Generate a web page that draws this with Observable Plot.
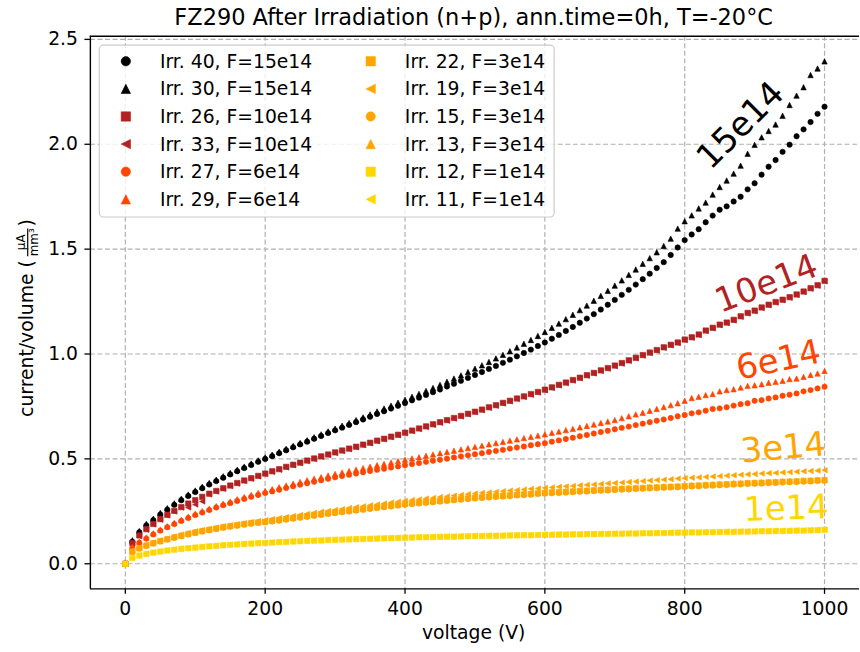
<!DOCTYPE html>
<html><head><meta charset="utf-8">
<script src="https://cdn.jsdelivr.net/npm/d3@7"></script>
<script src="https://cdn.jsdelivr.net/npm/@observablehq/plot@0.6"></script>
<style>
html,body{margin:0;padding:0;overflow:hidden;background:#fff;width:860px;height:652px}
#chart{position:absolute;left:0;top:0}
</style></head><body><div id="chart"></div>
<script>
const voltage = [0,10,20,30,40,50,60,70,80,90,100,110,120,130,140,150,160,170,180,190,200,210,220,230,240,250,260,270,280,290,300,310,320,330,340,350,360,370,380,390,400,410,420,430,440,450,460,470,480,490,500,510,520,530,540,550,560,570,580,590,600,610,620,630,640,650,660,670,680,690,700,710,720,730,740,750,760,770,780,790,800,810,820,830,840,850,860,870,880,890,900,910,920,930,940,950,960,970,980,990,1000];

const irr40 = [0,0.105,0.150,0.183,0.208,0.235,0.258,0.281,0.303,0.323,0.342,0.360,0.378,0.394,0.410,0.426,0.441,0.456,0.471,0.486,0.500,0.513,0.527,0.541,0.555,0.569,0.582,0.596,0.609,0.623,0.636,0.649,0.662,0.675,0.688,0.701,0.714,0.727,0.740,0.753,0.766,0.779,0.792,0.805,0.818,0.831,0.845,0.858,0.872,0.886,0.900,0.914,0.929,0.943,0.958,0.973,0.989,1.005,1.021,1.038,1.055,1.073,1.091,1.110,1.129,1.149,1.169,1.190,1.212,1.235,1.258,1.282,1.306,1.331,1.357,1.383,1.410,1.438,1.472,1.508,1.543,1.570,1.595,1.628,1.660,1.688,1.704,1.727,1.750,1.785,1.814,1.855,1.893,1.925,1.964,1.998,2.038,2.071,2.106,2.145,2.179];
const irr30 = [0,0.112,0.156,0.190,0.215,0.242,0.265,0.288,0.310,0.330,0.349,0.367,0.385,0.401,0.417,0.433,0.448,0.463,0.478,0.493,0.507,0.520,0.534,0.548,0.562,0.576,0.589,0.603,0.617,0.631,0.644,0.658,0.671,0.685,0.698,0.712,0.726,0.740,0.754,0.768,0.782,0.796,0.810,0.824,0.838,0.853,0.868,0.883,0.898,0.914,0.930,0.946,0.962,0.979,0.996,1.013,1.031,1.049,1.067,1.086,1.105,1.125,1.145,1.166,1.187,1.209,1.231,1.254,1.277,1.301,1.326,1.351,1.377,1.403,1.430,1.457,1.485,1.515,1.550,1.598,1.633,1.661,1.694,1.722,1.760,1.796,1.827,1.860,1.898,1.955,1.997,2.033,2.063,2.094,2.136,2.187,2.232,2.272,2.330,2.361,2.395];
const irr26 = [0,0.099,0.135,0.165,0.190,0.213,0.233,0.252,0.270,0.287,0.303,0.319,0.334,0.347,0.360,0.373,0.385,0.397,0.408,0.419,0.430,0.441,0.451,0.462,0.472,0.482,0.492,0.502,0.512,0.521,0.531,0.540,0.549,0.558,0.568,0.577,0.587,0.596,0.606,0.615,0.625,0.635,0.645,0.655,0.665,0.675,0.685,0.695,0.705,0.715,0.725,0.735,0.746,0.756,0.767,0.777,0.788,0.798,0.809,0.819,0.830,0.841,0.853,0.864,0.876,0.887,0.899,0.910,0.922,0.933,0.945,0.957,0.970,0.982,0.995,1.007,1.019,1.032,1.044,1.055,1.069,1.080,1.093,1.112,1.125,1.140,1.150,1.163,1.180,1.196,1.207,1.222,1.235,1.248,1.259,1.271,1.284,1.298,1.314,1.328,1.349];
const irr33 = [0,0.096,0.132,0.162,0.187,0.210,0.230,0.249,0.268,0.268,0.282,0.297,0.330,0.344,0.357,0.370,0.382,0.394,0.405,0.416,0.427,0.438,0.448,0.459,0.469,0.479,0.489,0.499,0.509,0.518,0.528,0.537,0.546,0.555,0.565,0.574,0.584,0.593,0.603,0.612,0.622,0.632,0.642,0.652,0.662,0.672,0.682,0.692,0.702,0.712,0.722,0.732,0.743,0.753,0.764,0.774,0.785,0.795,0.806,0.816,0.827,0.838,0.850,0.861,0.873,0.884,0.896,0.907,0.919,0.930,0.942,0.954,0.967,0.979,0.992,1.004,1.016,1.029,1.041,1.052,1.066,1.077,1.090,1.109,1.122,1.137,1.147,1.160,1.177,1.193,1.204,1.219,1.232,1.245,1.256,1.268,1.281,1.295,1.311,1.325,1.346];
const irr27 = [0,0.075,0.100,0.120,0.140,0.158,0.174,0.189,0.204,0.218,0.232,0.244,0.256,0.268,0.279,0.289,0.299,0.309,0.319,0.328,0.337,0.345,0.353,0.361,0.369,0.377,0.384,0.391,0.398,0.405,0.412,0.418,0.424,0.430,0.436,0.442,0.448,0.453,0.459,0.464,0.470,0.475,0.480,0.486,0.491,0.496,0.501,0.507,0.512,0.517,0.522,0.527,0.533,0.538,0.543,0.549,0.554,0.559,0.565,0.570,0.575,0.582,0.588,0.595,0.601,0.608,0.614,0.621,0.628,0.634,0.641,0.648,0.654,0.661,0.668,0.675,0.682,0.688,0.695,0.703,0.709,0.717,0.722,0.730,0.738,0.741,0.746,0.754,0.761,0.765,0.777,0.780,0.788,0.793,0.801,0.806,0.812,0.822,0.828,0.836,0.844];
const irr29 = [0,0.080,0.105,0.125,0.145,0.163,0.179,0.195,0.210,0.225,0.239,0.251,0.263,0.275,0.286,0.297,0.308,0.318,0.328,0.338,0.347,0.356,0.365,0.373,0.382,0.390,0.398,0.406,0.413,0.421,0.428,0.435,0.442,0.449,0.456,0.463,0.470,0.476,0.483,0.489,0.496,0.502,0.508,0.515,0.521,0.527,0.533,0.539,0.545,0.551,0.557,0.563,0.569,0.575,0.581,0.587,0.593,0.599,0.605,0.611,0.617,0.624,0.630,0.637,0.643,0.650,0.657,0.664,0.671,0.678,0.685,0.694,0.703,0.712,0.720,0.729,0.738,0.747,0.756,0.765,0.777,0.790,0.796,0.804,0.809,0.822,0.828,0.832,0.840,0.848,0.851,0.856,0.863,0.867,0.872,0.880,0.883,0.891,0.900,0.907,0.919];
const irr22 = [0,0.058,0.074,0.087,0.098,0.108,0.117,0.126,0.134,0.142,0.149,0.156,0.162,0.168,0.174,0.179,0.184,0.189,0.194,0.197,0.200,0.205,0.209,0.214,0.218,0.223,0.227,0.232,0.236,0.241,0.245,0.249,0.253,0.257,0.261,0.265,0.269,0.273,0.277,0.281,0.285,0.288,0.291,0.294,0.297,0.300,0.303,0.306,0.309,0.312,0.315,0.317,0.320,0.322,0.324,0.326,0.329,0.331,0.333,0.336,0.338,0.340,0.341,0.343,0.345,0.347,0.348,0.350,0.352,0.353,0.355,0.357,0.358,0.360,0.361,0.363,0.364,0.366,0.367,0.368,0.370,0.372,0.373,0.375,0.376,0.378,0.379,0.381,0.382,0.384,0.385,0.386,0.388,0.389,0.391,0.392,0.393,0.395,0.396,0.398,0.399];
const irr19 = [0,0.062,0.078,0.091,0.102,0.112,0.121,0.130,0.139,0.147,0.155,0.161,0.167,0.173,0.179,0.184,0.189,0.194,0.199,0.204,0.208,0.213,0.218,0.223,0.228,0.233,0.238,0.243,0.248,0.252,0.257,0.261,0.266,0.270,0.274,0.279,0.283,0.287,0.292,0.296,0.300,0.304,0.307,0.311,0.314,0.318,0.321,0.325,0.328,0.332,0.335,0.338,0.340,0.343,0.346,0.349,0.351,0.354,0.357,0.359,0.362,0.364,0.367,0.369,0.371,0.374,0.376,0.378,0.380,0.383,0.385,0.387,0.390,0.392,0.394,0.397,0.399,0.401,0.403,0.406,0.408,0.410,0.412,0.414,0.416,0.418,0.420,0.422,0.424,0.426,0.428,0.430,0.432,0.433,0.435,0.437,0.439,0.441,0.442,0.444,0.446];
const irr15 = [0,0.056,0.072,0.085,0.096,0.106,0.115,0.123,0.131,0.139,0.146,0.153,0.159,0.165,0.171,0.176,0.181,0.186,0.190,0.194,0.197,0.201,0.205,0.210,0.214,0.219,0.223,0.228,0.232,0.237,0.241,0.245,0.249,0.253,0.257,0.261,0.265,0.269,0.273,0.277,0.281,0.284,0.287,0.290,0.293,0.296,0.299,0.302,0.305,0.308,0.311,0.313,0.316,0.318,0.320,0.322,0.325,0.327,0.329,0.332,0.334,0.336,0.337,0.339,0.341,0.343,0.344,0.346,0.348,0.349,0.351,0.353,0.354,0.356,0.357,0.359,0.360,0.362,0.363,0.364,0.366,0.368,0.369,0.371,0.372,0.374,0.375,0.377,0.378,0.380,0.381,0.382,0.384,0.385,0.387,0.388,0.389,0.391,0.392,0.394,0.395];
const irr13 = [0,0.060,0.077,0.090,0.101,0.111,0.120,0.129,0.137,0.145,0.152,0.159,0.165,0.171,0.177,0.182,0.187,0.192,0.197,0.200,0.204,0.208,0.212,0.217,0.221,0.226,0.230,0.235,0.239,0.244,0.248,0.252,0.256,0.260,0.264,0.268,0.272,0.276,0.280,0.284,0.288,0.291,0.294,0.297,0.300,0.303,0.306,0.309,0.312,0.315,0.318,0.320,0.323,0.325,0.327,0.329,0.332,0.334,0.336,0.339,0.341,0.343,0.344,0.346,0.348,0.350,0.351,0.353,0.355,0.356,0.358,0.360,0.361,0.363,0.364,0.366,0.367,0.369,0.370,0.371,0.373,0.375,0.376,0.378,0.379,0.381,0.382,0.384,0.385,0.387,0.388,0.389,0.391,0.392,0.394,0.395,0.396,0.398,0.399,0.401,0.402];
const irr12 = [0,0.028,0.039,0.047,0.053,0.058,0.063,0.067,0.071,0.074,0.077,0.080,0.083,0.085,0.088,0.090,0.092,0.094,0.096,0.098,0.099,0.101,0.103,0.104,0.106,0.107,0.109,0.110,0.111,0.113,0.114,0.115,0.116,0.117,0.118,0.119,0.120,0.121,0.122,0.123,0.124,0.125,0.126,0.126,0.127,0.128,0.129,0.129,0.130,0.131,0.132,0.132,0.133,0.133,0.134,0.135,0.135,0.136,0.136,0.137,0.138,0.138,0.139,0.139,0.140,0.140,0.141,0.141,0.142,0.142,0.143,0.143,0.144,0.144,0.145,0.145,0.146,0.146,0.147,0.148,0.148,0.149,0.149,0.150,0.150,0.151,0.152,0.152,0.153,0.153,0.154,0.155,0.155,0.156,0.156,0.157,0.158,0.158,0.159,0.160,0.162];
const irr11 = [0,0.030,0.041,0.049,0.055,0.060,0.065,0.069,0.073,0.076,0.079,0.082,0.085,0.087,0.090,0.092,0.094,0.096,0.098,0.100,0.101,0.103,0.105,0.106,0.108,0.109,0.111,0.112,0.113,0.115,0.116,0.117,0.118,0.119,0.120,0.121,0.122,0.123,0.124,0.125,0.126,0.127,0.128,0.128,0.129,0.130,0.131,0.131,0.132,0.133,0.134,0.134,0.135,0.135,0.136,0.137,0.137,0.138,0.138,0.139,0.140,0.140,0.141,0.141,0.142,0.142,0.143,0.143,0.144,0.144,0.145,0.145,0.146,0.146,0.147,0.147,0.148,0.148,0.149,0.150,0.150,0.151,0.151,0.152,0.152,0.153,0.154,0.154,0.155,0.155,0.156,0.157,0.157,0.158,0.158,0.159,0.160,0.160,0.161,0.162,0.163];

const seriesLabels = ["Irr. 40, F=15e14","Irr. 30, F=15e14","Irr. 26, F=10e14","Irr. 33, F=10e14","Irr. 27, F=6e14","Irr. 29, F=6e14","Irr. 22, F=3e14","Irr. 19, F=3e14","Irr. 15, F=3e14","Irr. 13, F=3e14","Irr. 12, F=1e14","Irr. 11, F=1e14"];
const seriesValues = [irr40, irr30, irr26, irr33, irr27, irr29, irr22, irr19, irr15, irr13, irr12, irr11];
const seriesShapes = ["circle","triangle","square","left","circle","triangle","square","left","circle","triangle","square","left"];
const seriesColors = ["#000000","#000000","#b22222","#b22222","#ff4500","#ff4500","#ffa500","#ffa500","#ffa500","#ffa500","#ffd700","#ffd700"];

const xTicks = [0,200,400,600,800,1000];
const yTicks = [0,0.5,1.0,1.5,2.0,2.5];
const annoLabels = ["15e14","10e14","6e14","3e14","1e14"];
const annoVoltage = [880, 917, 934, 941, 945];
const annoValue = [2.09, 1.335, 0.97, 0.552, 0.262];
const annoAngle = [-45, -21, -12, -5, -2];
const annoColors = ["#000000","#b22222","#ff4500","#ffa500","#ffd700"];

const FONT = "DejaVu Sans";

function shape(kind) {
  return {draw(ctx, size) {
    const r = Math.sqrt(size / Math.PI);
    if (kind === "circle") { ctx.moveTo(r, 0); ctx.arc(0, 0, r, 0, 2 * Math.PI); }
    else if (kind === "square") { ctx.rect(-r, -r, 2 * r, 2 * r); }
    else if (kind === "triangle") { ctx.moveTo(0, -r); ctx.lineTo(-r, r); ctx.lineTo(r, r); ctx.closePath(); }
    else { ctx.moveTo(-r, 0); ctx.lineTo(r, -r); ctx.lineTo(r, r); ctx.closePath(); }
  }};
}

const xDomain = [-50, 1050];
const yDomain = [-0.1198, 2.515];

const dotMarks = seriesValues.map((vals, i) => {
  const rows = vals.map((v, j) => ({V: voltage[j], I: v}));
  return Plot.dot(rows, {x: "V", y: "I", r: 2.7, symbol: shape(seriesShapes[i]), fill: seriesColors[i], stroke: seriesColors[i], strokeWidth: 0.6});
});
const annoMarks = annoLabels.map((t, i) => Plot.text([{V: annoVoltage[i], I: annoValue[i], t, a: annoAngle[i]}], {
  x: "V", y: "I", text: "t", rotate: "a", fill: annoColors[i], fontSize: 34, textAnchor: "middle", lineAnchor: "middle"
}));

const svg = Plot.plot({
  width: 866, height: 652,
  marginLeft: 90.5, marginRight: 1, marginTop: 36, marginBottom: 59.5,
  style: {fontFamily: FONT, fontSize: "18.9px", color: "black", background: "white", overflow: "visible"},
  x: {domain: xDomain, label: null},
  y: {domain: yDomain, label: null},
  marks: [
    Plot.gridX(xTicks, {stroke: "#b0b0b0", strokeOpacity: 1, strokeWidth: 1.2, strokeDasharray: "5,2.6"}),
    Plot.gridY(yTicks, {stroke: "#b0b0b0", strokeOpacity: 1, strokeWidth: 1.2, strokeDasharray: "5,2.6"}),
    ...dotMarks,
    ...annoMarks,
    Plot.axisX(xTicks, {tickSize: 5.5, tickPadding: 7, tickFormat: d => String(d), label: null, strokeWidth: 1.3}),
    Plot.axisY(yTicks, {tickSize: 5.5, tickPadding: 7, tickFormat: d3.format(".1f"), label: null, strokeWidth: 1.3}),
    Plot.ruleX([xDomain[0]], {stroke: "black", strokeWidth: 1.4}),
    Plot.ruleY(yDomain, {stroke: "black", strokeWidth: 1.4})
  ]
});
document.getElementById("chart").appendChild(svg);

const root = d3.select(svg);
function addText(sel, x, y, size, anchor, txt) {
  return sel.append("text").attr("x", x).attr("y", y).attr("text-anchor", anchor)
    .style("font-family", FONT).style("font-size", size + "px").attr("fill", "black").text(txt);
}
addText(root, 477, 25, 22.6, "middle", "FZ290 After Irradiation (n+p), ann.time=0h, T=-20°C");
addText(root, 477, 643, 18.9, "middle", "voltage (V)");
const yl = root.append("g").attr("transform", "translate(33.5,314) rotate(-90)");
addText(yl, 52, 0, 18.9, "end", "current/volume (");
addText(yl, 70, -8.5, 12, "middle", "μA");
yl.append("line").attr("x1", 56).attr("x2", 84).attr("y1", -5.6).attr("y2", -5.6).attr("stroke", "black").attr("stroke-width", 1.2);
addText(yl, 70, 4.5, 12, "middle", "mm³");
addText(yl, 86, 0, 18.9, "start", ")");

const lg = root.append("g");
lg.append("rect").attr("x", 100).attr("y", 45.5).attr("width", 458).attr("height", 173).attr("rx", 4)
  .attr("fill", "white").attr("fill-opacity", 0.8).attr("stroke", "#cccccc").attr("stroke-width", 1.2);
seriesLabels.forEach((lab, i) => {
  const col = i < 6 ? 0 : 1, row = i % 6;
  const cy = 61.7 + row * 27.8;
  const mx = col ? 373.3 : 126.7, tx = col ? 407.7 : 161;
  lg.append("path").attr("transform", `translate(${mx},${cy})`)
    .attr("d", d3.symbol(shape(seriesShapes[i]), Math.PI * 4.7 * 4.7)())
    .attr("fill", seriesColors[i]).attr("stroke", seriesColors[i]).attr("stroke-width", 0.6);
  addText(lg, tx, cy, 18.9, "start", lab).attr("dy", "0.35em");
});
</script></body></html>
